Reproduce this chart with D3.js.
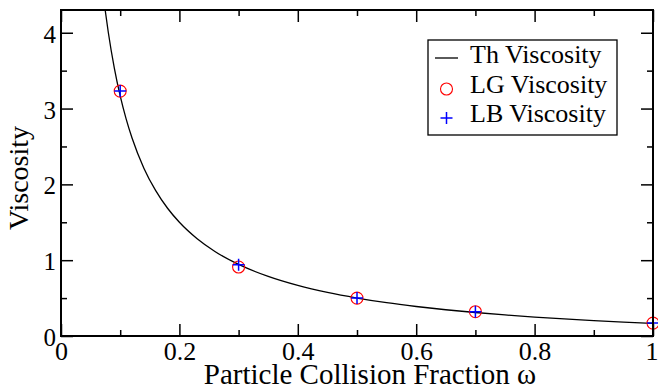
<!DOCTYPE html>
<html>
<head>
<meta charset="utf-8">
<script src="https://cdn.jsdelivr.net/npm/d3@7/dist/d3.min.js"></script>
<style>
  html, body { margin: 0; padding: 0; background: #fff; }
  svg { display: block; }
  text { font-family: "Liberation Serif", "Times New Roman", serif; fill: #000; }
</style>
</head>
<body>
<svg id="chart" width="658" height="389"></svg>
<script>
// ---- data ----
const thOmega = [0.0746, 0.08, 0.09, 0.1, 0.11, 0.12, 0.14, 0.16, 0.18, 0.2, 0.23, 0.26, 0.3, 0.35, 0.4, 0.45, 0.5, 0.55, 0.6, 0.65, 0.7, 0.75, 0.8, 0.85, 0.9, 0.95, 1.0];
const thViscosity = [4.30, 4.00, 3.537, 3.167, 2.864, 2.611, 2.214, 1.917, 1.685, 1.50, 1.283, 1.115, 0.944, 0.786, 0.667, 0.574, 0.50, 0.439, 0.389, 0.346, 0.310, 0.278, 0.250, 0.225, 0.204, 0.184, 0.167];
const lgOmega = [0.1, 0.3, 0.5, 0.7, 1.0];
const lgViscosity = [3.23, 0.91, 0.50, 0.32, 0.17];
const lbOmega = [0.1, 0.3, 0.5, 0.7, 1.0];
const lbViscosity = [3.23, 0.94, 0.50, 0.32, 0.17];
const xMajorTicks = [0, 0.2, 0.4, 0.6, 0.8, 1];
const xMinorTicks = [0.1, 0.3, 0.5, 0.7, 0.9];
const yMajorTicks = [0, 1, 2, 3, 4];
const yMinorTicks = [0.5, 1.5, 2.5, 3.5];
const legendLabels = ["Th Viscosity", "LG Viscosity", "LB Viscosity"];
const xTitle = "Particle Collision Fraction ω";
const yTitle = "Viscosity";

// ---- layout ----
const FONT = "'Liberation Serif', 'Times New Roman', serif";
const L = 61, R = 653, T = 10, B = 336;
const svg = d3.select("#chart");
const x = d3.scaleLinear().domain([0, 1]).range([L, R]);
const y = d3.scaleLinear().domain([0, 4.3]).range([B, T]);

svg.append("defs").append("clipPath").attr("id", "clip")
  .append("rect").attr("x", L).attr("y", T).attr("width", R - L).attr("height", B - T);

// curve
const thData = thOmega.map((w, i) => [w, thViscosity[i]]);
svg.append("path")
  .attr("clip-path", "url(#clip)")
  .attr("d", d3.line().x(d => x(d[0])).y(d => y(d[1])).curve(d3.curveMonotoneX)(thData))
  .attr("fill", "none").attr("stroke", "#000").attr("stroke-width", 1.3);

// LG circles
svg.append("g").selectAll("circle")
  .data(lgOmega.map((w, i) => [w, lgViscosity[i]]))
  .join("circle")
  .attr("cx", d => x(d[0])).attr("cy", d => y(d[1])).attr("r", 6)
  .attr("fill", "none").attr("stroke", "#ff0000").attr("stroke-width", 1.1);

// LB plus
const plus = (cx, cy, s) => `M${cx - s},${cy}H${cx + s}M${cx},${cy - s}V${cy + s}`;
svg.append("g").selectAll("path")
  .data(lbOmega.map((w, i) => [w, lbViscosity[i]]))
  .join("path")
  .attr("d", d => plus(x(d[0]), y(d[1]), 6))
  .attr("fill", "none").attr("stroke", "#0000ff").attr("stroke-width", 1.5);

// axes (inward ticks on all four sides)
function styleAxis(g, size) {
  g.attr("font-family", FONT).attr("font-size", size || 26);
  g.selectAll(".domain").remove();
  g.selectAll(".tick line").attr("stroke", "#000").attr("stroke-width", 1.5);
  g.selectAll("text").attr("font-family", FONT).style("font-family", FONT)
    .style("font-size", (size || 26) + "px").attr("fill", "#000");
}
const xAx = svg.append("g").attr("transform", `translate(0,${B})`)
  .call(d3.axisBottom(x).tickValues(xMajorTicks).tickFormat(d => d3.format("")(d)).tickSizeInner(-12).tickSizeOuter(0).tickPadding(6))
  .call(g => styleAxis(g, 26));
xAx.selectAll(".tick text").filter(d => d === 1).attr("text-anchor", "end").attr("x", 5);
svg.append("g").attr("transform", `translate(0,${B})`)
  .call(d3.axisBottom(x).tickValues(xMinorTicks).tickFormat("").tickSizeInner(-6).tickSizeOuter(0))
  .call(g => styleAxis(g));
svg.append("g").attr("transform", `translate(0,${T})`)
  .call(d3.axisTop(x).tickValues(xMajorTicks).tickFormat("").tickSizeInner(-12).tickSizeOuter(0))
  .call(g => styleAxis(g));
svg.append("g").attr("transform", `translate(0,${T})`)
  .call(d3.axisTop(x).tickValues(xMinorTicks).tickFormat("").tickSizeInner(-6).tickSizeOuter(0))
  .call(g => styleAxis(g));
const yAx = svg.append("g").attr("transform", `translate(${L},0)`)
  .call(d3.axisLeft(y).tickValues(yMajorTicks).tickFormat(d3.format("d")).tickSizeInner(-12).tickSizeOuter(0).tickPadding(5))
  .call(g => styleAxis(g, 25));
yAx.selectAll("text").attr("dy", "0.38em");
svg.append("g").attr("transform", `translate(${L},0)`)
  .call(d3.axisLeft(y).tickValues(yMinorTicks).tickFormat("").tickSizeInner(-6).tickSizeOuter(0))
  .call(g => styleAxis(g));
svg.append("g").attr("transform", `translate(${R},0)`)
  .call(d3.axisRight(y).tickValues(yMajorTicks).tickFormat("").tickSizeInner(-12).tickSizeOuter(0))
  .call(g => styleAxis(g));
svg.append("g").attr("transform", `translate(${R},0)`)
  .call(d3.axisRight(y).tickValues(yMinorTicks).tickFormat("").tickSizeInner(-6).tickSizeOuter(0))
  .call(g => styleAxis(g));

// frame
svg.append("rect").attr("x", L).attr("y", T).attr("width", R - L).attr("height", B - T)
  .attr("fill", "none").attr("stroke", "#000").attr("stroke-width", 2);

// titles
svg.append("text").attr("x", 370).attr("y", 384).attr("text-anchor", "middle")
  .style("font-family", FONT).style("font-size", "29px").text(xTitle);
svg.append("text").attr("transform", "translate(28,178) rotate(-90)").attr("text-anchor", "middle")
  .style("font-family", FONT).style("font-size", "28px").text(yTitle);

// legend
const lg = svg.append("g");
lg.append("rect").attr("x", 428).attr("y", 40).attr("width", 189).attr("height", 95)
  .attr("fill", "#fff").attr("stroke", "#000").attr("stroke-width", 1.3);
const rowsY = [63, 93, 122];
lg.selectAll("text").data(legendLabels).join("text")
  .attr("x", 470).attr("y", (d, i) => rowsY[i])
  .style("font-family", FONT).style("font-size", "26px").text(d => d);
lg.append("line").attr("x1", 435).attr("x2", 458).attr("y1", rowsY[0] - 5).attr("y2", rowsY[0] - 5)
  .attr("stroke", "#000").attr("stroke-width", 1.3);
lg.append("circle").attr("cx", 446.5).attr("cy", rowsY[1] - 4).attr("r", 6)
  .attr("fill", "none").attr("stroke", "#ff0000").attr("stroke-width", 1.1);
lg.append("path").attr("d", plus(446.5, rowsY[2] - 4, 6))
  .attr("fill", "none").attr("stroke", "#0000ff").attr("stroke-width", 1.5);
</script>
</body>
</html>
